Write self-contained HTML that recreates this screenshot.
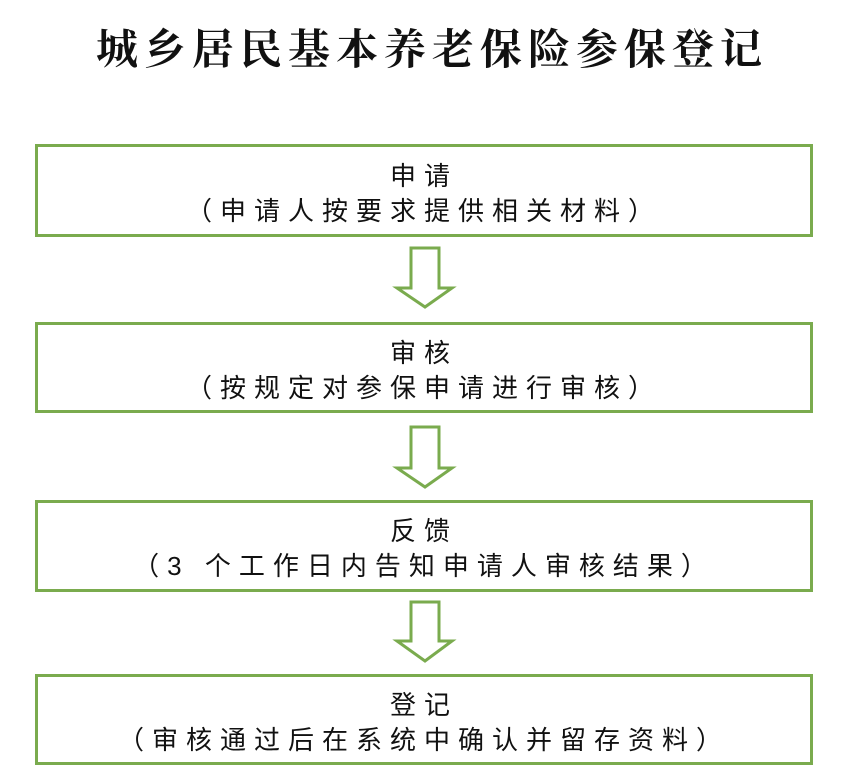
<!DOCTYPE html>
<html><head><meta charset="utf-8"><style>
body{margin:0;width:864px;height:784px;background:#fff;position:relative;overflow:hidden;font-family:"Liberation Sans","Noto Sans CJK SC",sans-serif;color:#111}
.t{position:absolute;left:0;width:864px;text-align:center;top:26px;font-size:42px;font-weight:bold;line-height:50px;letter-spacing:6px;font-family:"Liberation Serif","Noto Serif CJK SC",serif}
.b{position:absolute;left:35px;width:778px;border:3px solid #7aab4e;box-sizing:border-box}
.l{position:absolute;left:0;width:100%;text-align:center;font-size:26px;line-height:30px;letter-spacing:8px}
</style></head><body>
<div class="t">城乡居民基本养老保险参保登记</div>
<div class="b" style="top:144px;height:93px"><div class="l" style="top:14px">申请</div><div class="l" style="top:49px">（申请人按要求提供相关材料）</div></div>
<div class="b" style="top:322px;height:91px"><div class="l" style="top:13px">审核</div><div class="l" style="top:48px">（按规定对参保申请进行审核）</div></div>
<div class="b" style="top:500px;height:92px"><div class="l" style="top:13px">反馈</div><div class="l" style="top:48px">（3 个工作日内告知申请人审核结果）</div></div>
<div class="b" style="top:674px;height:91px"><div class="l" style="top:13px">登记</div><div class="l" style="top:48px">（审核通过后在系统中确认并留存资料）</div></div>
<svg width="864" height="784" style="position:absolute;left:0;top:0">
<g fill="none" stroke="#7aab4e" stroke-width="3">
<polygon points="411,248 439,248 439,288 452,288 425,307 397,288 411,288"/>
<polygon points="411,427 439,427 439,468 452,468 425,487 397,468 411,468"/>
<polygon points="411,602 439,602 439,641 452,641 425,661 397,641 411,641"/>
</g></svg>
</body></html>
